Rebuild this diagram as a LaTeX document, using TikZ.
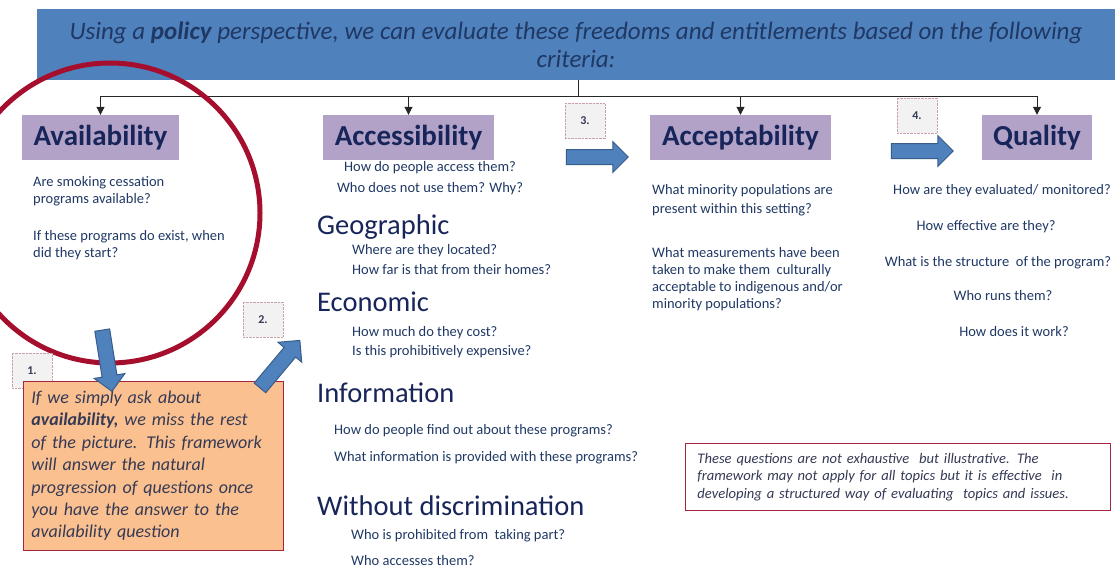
\documentclass[tikz,border=0pt]{standalone}
\usepackage{fontspec}
\setmainfont{Carlito}
\usetikzlibrary{arrows.meta,shapes.arrows}
\definecolor{bannerblue}{HTML}{4F81BD}
\definecolor{arrowedge}{HTML}{385D8A}
\definecolor{navy}{HTML}{1F3864}
\definecolor{headnavy}{HTML}{17255A}
\definecolor{lavender}{HTML}{B3A2C7}
\definecolor{circlered}{HTML}{A50F2D}
\definecolor{notered}{HTML}{A3263F}
\definecolor{peach}{HTML}{FAC090}
\definecolor{numgrey}{HTML}{F2F2F2}
\definecolor{numedge}{HTML}{C9A0A8}
\definecolor{softtext}{HTML}{353A55}

\begin{document}
\begin{tikzpicture}[x=1pt,y=-1pt,
    every node/.style={inner sep=0pt,text=navy},
    criterion/.style={fill=lavender,minimum height=45pt,font=\fontsize{29}{32}\selectfont\bfseries,text=headnavy},
    subhead/.style={anchor=base west,font=\fontsize{28.5}{32}\selectfont,text=headnavy},
    question/.style={anchor=base west,align=left,font=\fontsize{14.5}{17}\selectfont},
    numbox/.style={draw=numedge,densely dotted,fill=numgrey,minimum width=40pt,minimum height=35pt,font=\fontsize{12}{14}\selectfont\bfseries,text=softtext},
    bluearrow/.style={single arrow,draw=arrowedge,fill=bannerblue,line width=1pt,single arrow head extend=8pt,minimum height=62pt,inner sep=7pt},
    link/.style={-{Triangle[length=8pt,width=8pt]},line width=1pt,draw=black!85}]
    \useasboundingbox (0,0) rectangle (1115,567);
    \clip (0,0) rectangle (1115,567);

    % banner and the four criteria
    \node[fill=bannerblue,minimum width=1078pt,minimum height=71pt,align=center,font=\fontsize{25}{28}\selectfont\itshape] (banner) at (576,44.5) {Using a \textbf{policy} perspective, we can evaluate these freedoms and entitlements based on the following\\criteria:};
    \node[criterion,minimum width=157pt] (avail) at (100.5,137.5) {Availability};
    \node[criterion,minimum width=171pt] (access) at (408.5,137.5) {Accessibility};
    \node[criterion,minimum width=181pt] (accept) at (740.5,137.5) {Acceptability};
    \node[criterion,minimum width=110pt] (quality) at (1037,137.5) {Quality};
    \coordinate (hub) at (578,97);
    \draw[line width=1pt,black!85] (banner.south -| hub) -- (hub);
    \foreach \c in {avail,access,accept,quality}
      \draw[link] (hub) -| (\c.north);

    \draw[circlered,line width=5pt] (110,213) circle[radius=150];

    % availability (base = last line)
    \node[question] (availq1) at (33,203) {Are smoking cessation\\programs available?};
    \node[question] (availq2) at (33,257) {If these programs do exist, when\\did they start?};

    % accessibility
    \node[question,anchor=base,align=center,font=\fontsize{14.5}{21}\selectfont] (accessq) at (430,192) {How do people access them?\\Who does not use them? Why?};
    \node[subhead] (geo) at (317,234) {Geographic};
    \node[question,font=\fontsize{14.5}{20}\selectfont] (geoq) at (352,274) {Where are they located?\\How far is that from their homes?};
    \node[subhead] (econ) at (317,311) {Economic};
    \node[question,font=\fontsize{14.5}{19}\selectfont] (econq) at (352,355) {How much do they cost?\\Is this prohibitively expensive?};
    \node[subhead] (info) at (317,402) {Information};
    \node[question,font=\fontsize{14.5}{27}\selectfont] (infoq) at (334,461) {How do people find out about these programs?\\What information is provided with these programs?};
    \node[subhead] (nodisc) at (317,515) {Without discrimination};
    \node[question,font=\fontsize{14.5}{26}\selectfont] (nodiscq) at (351,565) {Who is prohibited from\ \ taking part?\\Who accesses them?};

    % acceptability
    \node[question,font=\fontsize{14.5}{19}\selectfont] (acceptq1) at (652,213) {What minority populations are\\present within this setting?};
    \node[question] (acceptq2) at (652,308) {What measurements have been\\taken to make them\ \ culturally\\acceptable to indigenous and/or\\minority populations?};

    % quality
    \node[question,anchor=base] (qual1) at (1002,194) {How are they evaluated/ monitored?};
    \node[question,anchor=base] (qual2) at (986,230) {How effective are they?};
    \node[question,anchor=base] (qual3) at (998,266) {What is the structure\ \ of the program?};
    \node[question,anchor=base] (qual4) at (1003,300) {Who runs them?};
    \node[question,anchor=base] (qual5) at (1014,336) {How does it work?};

    % steps
    \node[numbox] (n1) at (32,370.5) {1.};
    \node[fill=peach,draw=notered,line width=0.8pt,anchor=north west,minimum height=169pt,text width=244pt,inner xsep=8pt,align=left,font=\fontsize{18}{22.4}\selectfont\itshape,text=softtext] (summary) at (23,381) {If we simply ask about\\\textbf{availability,} we miss the rest\\of the picture. This framework\\will answer the natural\\progression of questions once\\you have the answer to the\\availability question};
    \node[numbox] (n2) at (263,319.5) {2.};
    \node[numbox] (n3) at (585,121) {3.};
    \node[numbox] (n4) at (917,115.5) {4.};
    \node[bluearrow,rotate=-81] (step1) at (106.5,357) {};
    \node[bluearrow,rotate=50] (step2) at (277.5,367) {};
    \node[bluearrow] (step3) at (593.5,157) {};
    \node[bluearrow] (step4) at (918.5,151) {};

    \node[draw=notered,line width=0.8pt,fill=white,anchor=north west,minimum height=67pt,text width=401pt,inner xsep=12pt,align=left,font=\fontsize{14.6}{17.5}\selectfont\itshape,text=softtext] (note) at (685,443) {These questions are not exhaustive\ \ but illustrative. The\\framework may not apply for all topics but it is effective\ \ in\\developing a structured way of evaluating\ \ topics and issues.};
  \end{tikzpicture}
\end{document}
